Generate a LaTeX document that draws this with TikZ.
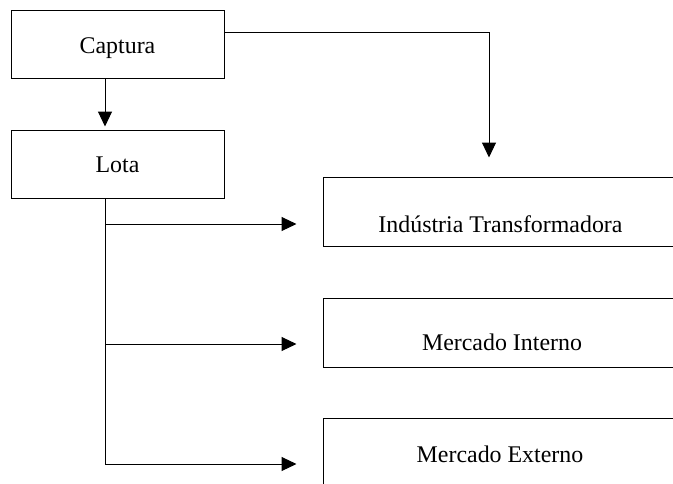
\documentclass[tikz,border=0pt]{standalone}
\usepackage{fontspec}
\setmainfont{Liberation Serif}
\usetikzlibrary{arrows.meta}
\begin{document}
\begin{tikzpicture}[x=1pt,y=-1pt, line width=1pt,
  box/.style={draw, rectangle, inner sep=0pt},
  lbl/.style={font=\fontsize{23.9}{28}\selectfont, inner sep=0pt, anchor=base},
  arr/.style={-{Triangle[length=15pt,width=14pt]}}]
\clip (0,0) rectangle (673,483);
% left boxes
\node[box, minimum width=213pt, minimum height=68pt] (cap) at (117.5,44) {};
\node[lbl] (captxt) at (117.5,53) {Captura};
\node[box, minimum width=213pt, minimum height=68pt] (lota) at (117.5,164) {};
\node[lbl] (lotatxt) at (117.5,172) {Lota};
% right boxes (cut off at the right edge)
\node[box, minimum width=380pt, minimum height=69pt] (ind) at (513,211.5) {};
\node[lbl] (indtxt) at (500.5,232) {Indústria Transformadora};
\node[box, minimum width=380pt, minimum height=69pt] (mi) at (513,332.5) {};
\node[lbl] (mitxt) at (502,350) {Mercado Interno};
\node[box, minimum width=380pt, minimum height=80pt] (me) at (513,458) {};
\node[lbl] (metxt) at (500,462) {Mercado Externo};
% connectors
\coordinate (trunk) at (105,0);
\coordinate (ti) at (105,224);
\coordinate (tm) at (105,344);
\coordinate (te) at (105,464);
\coordinate (bend) at (489,32);
\draw[arr, shorten >=3pt] (cap.south -| trunk) -- (lota.north -| trunk);
\draw (lota.south -| trunk) -- (te);
\draw[arr, shorten >=26pt] (ti) -- (ti -| ind.west);
\draw[arr, shorten >=26pt] (tm) -- (tm -| mi.west);
\draw[arr, shorten >=26pt] (te) -- (te -| me.west);
\draw[arr, shorten >=19pt] (bend -| cap.east) -- (bend) -- (bend |- ind.north);
\end{tikzpicture}
\end{document}
